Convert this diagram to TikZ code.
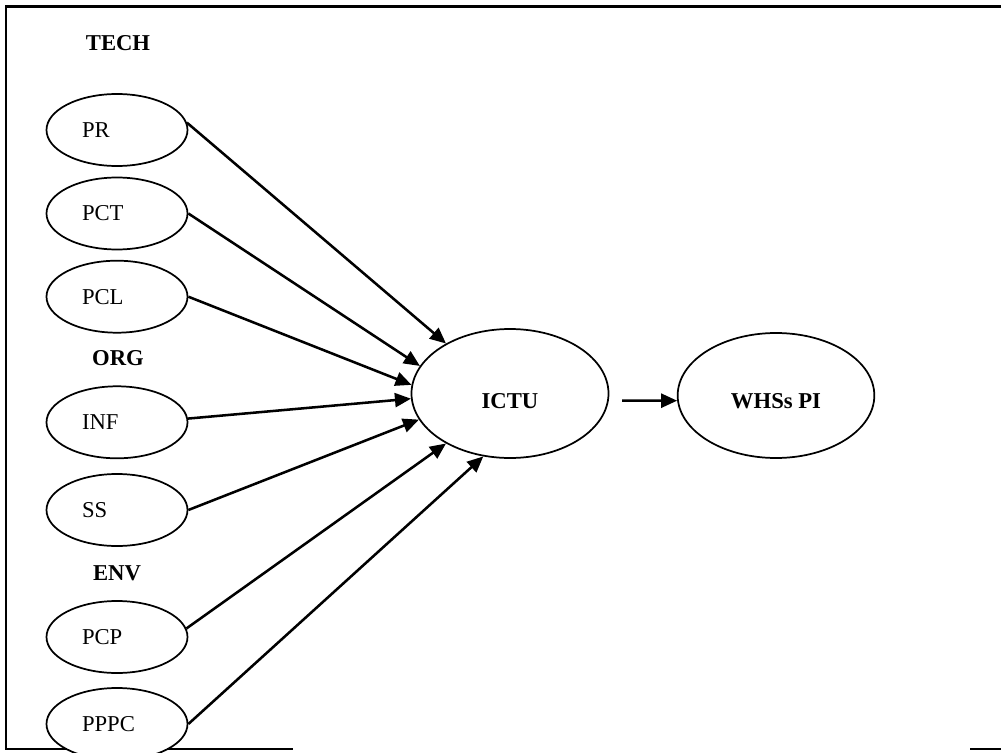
\documentclass[tikz,border=0pt]{standalone}
\usepackage{fontspec}
\setmainfont{Liberation Serif}
\usetikzlibrary{arrows.meta,shapes.geometric}
\begin{document}
\begin{tikzpicture}[x=0.75pt,y=-0.75pt,
  txt/.style={font=\fontsize{17}{20}\selectfont},
  head/.style={font=\fontsize{17}{20}\selectfont\bfseries},
  factor/.style={ellipse,draw,line width=1.3pt,fill=white,inner sep=0pt,
    minimum width=105.75pt,minimum height=54pt,
    text width=52.5pt,align=left,txt},
  bigell/.style={ellipse,draw,line width=1.3pt,fill=white,inner sep=0pt},
  link/.style={line width=1.9pt,-{Triangle[length=12pt,width=10.5pt]}},
  frame/.style={line width=1.8pt}]
\useasboundingbox (0,0) rectangle (1001,753);
\clip (0,0) rectangle (1001,753);

% open frame around the model
\draw[frame] (1001,6.5) -- (6,6.5) -- (6,749) -- (293,749);
\draw[frame] (970,749) -- (1001,749);

% group headings
\node[head] (tech) at (118,43) {TECH};
\node[head] (org)  at (118,358) {ORG};
\node[head] (env)  at (117,573) {ENV};

% determinants
\node[factor] (pr)   at (117,130)   {PR};
\node[factor] (pct)  at (117,213.5) {PCT};
\node[factor] (pcl)  at (117,296.7) {PCL};
\node[factor] (inf)  at (117,422.3) {INF};
\node[factor] (ss)   at (117,510)   {SS};
\node[factor] (pcp)  at (117,637)   {PCP};
\node[factor] (pppc) at (117,724)   {PPPC};

% ICT use and performance outcome
\node[bigell,minimum width=147.75pt,minimum height=96.75pt] (ictu) at (510,393.5) {};
\node[head] (ictu-l) at (510,401) {ICTU};
\node[bigell,minimum width=147.5pt,minimum height=93.75pt] (whs) at (776,395.5) {};
\node[head] (whs-l) at (776,401) {WHSs PI};

% paths into ICTU
\draw[link] (pr.6)    -- (ictu.142);
\draw[link] (pct.east) -- (ictu.163.3);
\draw[link] (pcl.east) -- (ictu.175.5);
\draw[link] (inf.3)   -- (ictu.183.2);
\draw[link] (ss.east)  -- (ictu.196.7);
\draw[link] (pcp.7)   -- (ictu.218.4);
\draw[link] (pppc.east) -- (ictu.247.6);

% ICTU to performance
\coordinate (out) at (622,400.7);
\draw[link] (out) -- (whs.183);
\end{tikzpicture}
\end{document}
